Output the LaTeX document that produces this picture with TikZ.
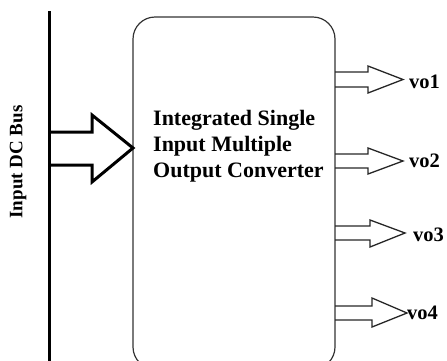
\documentclass[tikz,border=0pt]{standalone}
\usepackage{fontspec}
\setmainfont{Liberation Serif}
\begin{document}
\begin{tikzpicture}[x=1pt,y=-1pt,
  lbl/.style={font=\bfseries\fontsize{20.5}{24}\selectfont, inner sep=0pt},
  busline/.style={line width=3pt},
  boxline/.style={line width=1.2pt, draw=black!80, rounded corners=22pt},
  inarrow/.style={line width=3pt, line join=miter},
  outarrow/.style={line width=1.3pt, draw=black!85, line join=miter}]
\useasboundingbox (0,0) rectangle (447,360);
\clip (0,0) rectangle (447,360);
% DC bus
\coordinate (bustop) at (49,11);
\coordinate (busbot) at (49,362);
\draw[busline] (bustop) -- (busbot);
\node[lbl, rotate=90, font=\bfseries\fontsize{19}{22}\selectfont] (buslabel) at (18,162) {Input DC Bus};
% converter box
\draw[boxline] (133,17) rectangle (335,369);
\node[lbl, align=left, anchor=west, font=\bfseries\fontsize{22}{26}\selectfont] (conv) at (153,146)
  {Integrated Single\\Input Multiple\\Output Converter};
% input arrow
\draw[inarrow] (50,132) -- (92,132) -- (92,115) -- (133,148) -- (92,182) -- (92,165) -- (50,165);
% output arrows
\draw[outarrow] (335,72) -- (368,72) -- (368,66) -- (403,79.5) -- (368,93) -- (368,87) -- (335,87);
\node[lbl, anchor=west] (vo1) at (409,82) {vo1};
\draw[outarrow] (335,154) -- (368,154) -- (368,148) -- (403,161) -- (368,174) -- (368,168) -- (335,168);
\node[lbl, anchor=west] (vo2) at (409,161) {vo2};
\draw[outarrow] (335,226) -- (370,226) -- (370,220) -- (405,233) -- (370,247) -- (370,240) -- (335,240);
\node[lbl, anchor=west] (vo3) at (413,235) {vo3};
\draw[outarrow] (335,306) -- (372,306) -- (372,298) -- (407,313) -- (372,327) -- (372,320) -- (335,320);
\node[lbl, anchor=west] (vo4) at (407,313) {vo4};
\end{tikzpicture}
\end{document}
